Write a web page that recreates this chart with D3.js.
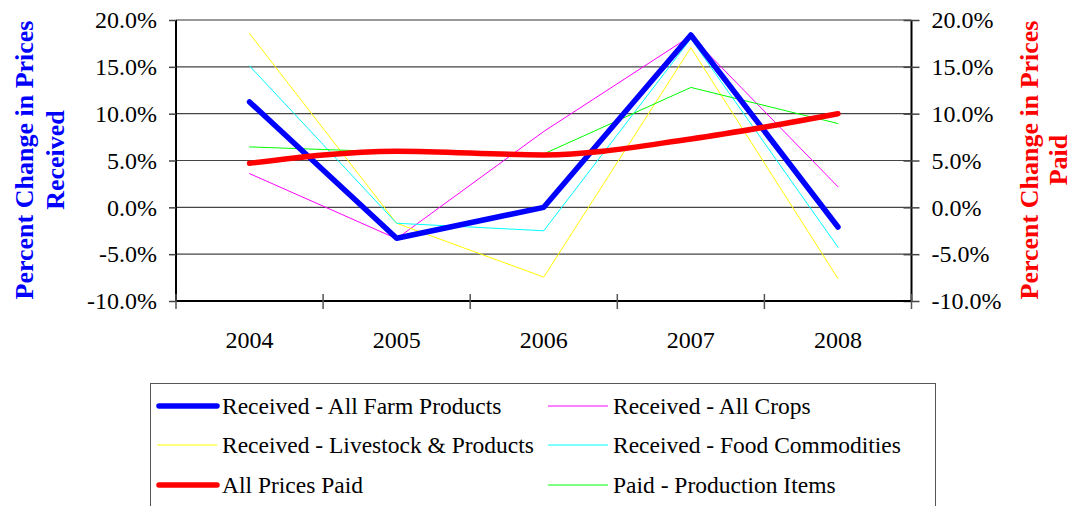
<!DOCTYPE html>
<html>
<head>
<meta charset="utf-8">
<script src="https://cdn.jsdelivr.net/npm/d3@7"></script>
<style>
  body { margin: 0; background: #fff; }
  svg, text { font-family: "Liberation Serif", "Times New Roman", serif; }
</style>
</head>
<body>
<div id="chart"></div>
<script>
// data (percent)
var years = ["2004", "2005", "2006", "2007", "2008"];
var allFarmProducts = [11.25, -3.3, 0.0, 18.4, -2.1];
var allCrops = [3.6, -3.35, 8.1, 18.3, 2.2];
var livestockProducts = [18.55, -1.7, -7.45, 17.05, -7.6];
var foodCommodities = [15.1, -1.7, -2.5, 18.0, -4.25];
var allPricesPaid = [4.7, 6.0, 5.6, 7.3, 10.0];
var productionItems = [6.45, 5.9, 5.7, 12.8, 8.95];
var yTicks = [-10, -5, 0, 5, 10, 15, 20];

var W = 1074, H = 506;
var plotLeft = 176, plotRight = 911.5, plotTop = 20, plotBottom = 301;

var svg = d3.select("#chart").append("svg")
    .attr("width", W)
    .attr("height", H);

var x = d3.scaleBand().domain(years).range([plotLeft, plotRight]);
var y = d3.scaleLinear().domain([-10, 20]).range([plotBottom, plotTop]);

// gridlines
svg.append("g")
    .selectAll("line")
    .data(yTicks.filter(d => d > -10))
    .enter().append("line")
    .attr("x1", plotLeft).attr("x2", plotRight)
    .attr("y1", d => y(d)).attr("y2", d => y(d))
    .attr("stroke", d => d == 20 ? "#777" : "#444")
    .attr("stroke-width", d => d == 20 ? 1.5 : 1.2);

var fmt = d => d.toFixed(1) + "%";

// left axis
var yAxisL = d3.axisLeft(y).tickValues(yTicks).tickFormat(fmt).tickSize(7).tickPadding(12);
var gL = svg.append("g").attr("transform", `translate(${plotLeft},0)`).call(yAxisL);

// right axis (ticks cross the line)
var yAxisR = d3.axisRight(y).tickValues(yTicks).tickFormat(fmt).tickSize(8).tickPadding(12);
var gR = svg.append("g").attr("transform", `translate(${plotRight},0)`).call(yAxisR);
gR.selectAll(".tick line").attr("x1", -8);

// bottom axis, ticks at the band edges
var xAxis = d3.axisBottom(x).tickSize(0).tickPadding(30);
var gX = svg.append("g").attr("transform", `translate(0,${plotBottom})`).call(xAxis);
var edges = years.map(d => x(d)).concat([plotRight]);
svg.append("g")
    .selectAll("line")
    .data(edges)
    .enter().append("line")
    .attr("x1", d => d).attr("x2", d => d)
    .attr("y1", plotBottom - 7).attr("y2", plotBottom + 8)
    .attr("stroke", "#555")
    .attr("stroke-width", 1.5);

[gL, gR, gX].forEach(function(g) {
    g.attr("font-family", null);
    g.select(".domain").attr("stroke", "#000").attr("stroke-width", 2);
    g.selectAll(".tick line").attr("stroke", "#444").attr("stroke-width", 1.5);
    g.selectAll("text")
        .attr("fill", "#000")
        .style("font-family", "'Liberation Serif', serif")
        .style("font-size", "24px");
});
gX.select(".domain").attr("d", `M${plotLeft},0H${plotRight}`);
gL.select(".domain").attr("d", `M0,${plotTop}V${plotBottom}`);
gR.select(".domain").attr("d", `M0,${plotTop}V${plotBottom}`);

// series
var series = [
    { name: "Received - All Crops", values: allCrops, color: "#ff00ff", width: 1 },
    { name: "Received - Livestock & Products", values: livestockProducts, color: "#ffff00", width: 1 },
    { name: "Received - Food Commodities", values: foodCommodities, color: "#00ffff", width: 1 },
    { name: "Paid - Production Items", values: productionItems, color: "#00ff00", width: 1 },
    { name: "Received - All Farm Products", values: allFarmProducts, color: "#0000ff", width: 5.5 },
    { name: "All Prices Paid", values: allPricesPaid, color: "#ff0000", width: 5.5, smooth: true }
];

series.forEach(function(s) {
    var line = d3.line()
        .x((d, i) => x(years[i]) + x.bandwidth() / 2)
        .y(d => y(d))
        .curve(s.smooth ? d3.curveMonotoneX : d3.curveLinear);
    svg.append("path")
        .datum(s.values)
        .attr("d", line)
        .attr("fill", "none")
        .attr("stroke", s.color)
        .attr("stroke-width", s.width)
        .attr("stroke-linecap", "round")
        .attr("stroke-linejoin", "round");
});

// axis titles
function title(cx, lines, color, gap) {
    var g = svg.append("g")
        .attr("transform", `translate(${cx},160) rotate(-90)`);
    lines.forEach(function(t, i) {
        g.append("text")
            .attr("x", 0)
            .attr("y", i * gap)
            .attr("text-anchor", "middle")
            .attr("fill", color)
            .style("font-weight", "bold")
            .style("font-size", "26px")
            .text(t);
    });
}
title(33, ["Percent Change in Prices", "Received"], "#0000ff", 31);
title(1038, ["Percent Change in Prices", "Paid"], "#ff0000", 29);

// legend
var legendOrder = [
    { name: "Received - All Farm Products", color: "#0000ff", width: 5.5 },
    { name: "Received - All Crops", color: "#ff00ff", width: 1 },
    { name: "Received - Livestock & Products", color: "#ffff00", width: 1 },
    { name: "Received - Food Commodities", color: "#00ffff", width: 1 },
    { name: "All Prices Paid", color: "#ff0000", width: 5.5 },
    { name: "Paid - Production Items", color: "#00ff00", width: 1 }
];

svg.append("rect")
    .attr("x", 150.5).attr("y", 383.5)
    .attr("width", 785).attr("height", 140)
    .attr("fill", "none")
    .attr("stroke", "#555")
    .attr("stroke-width", 1);

var colX = [157, 548];
var rowY = [406, 445, 485];
legendOrder.forEach(function(d, i) {
    var cx = colX[i % 2], cy = rowY[Math.floor(i / 2)];
    svg.append("line")
        .attr("x1", cx + (d.width > 2 ? 2 : 0)).attr("x2", cx + 60)
        .attr("y1", cy).attr("y2", cy)
        .attr("stroke", d.color)
        .attr("stroke-width", d.width)
        .attr("stroke-linecap", d.width > 2 ? "round" : "butt");
    svg.append("text")
        .attr("x", cx + 65)
        .attr("y", cy + 8)
        .attr("fill", "#000")
        .style("font-size", "23.5px")
        .text(d.name);
});
</script>
</body>
</html>
